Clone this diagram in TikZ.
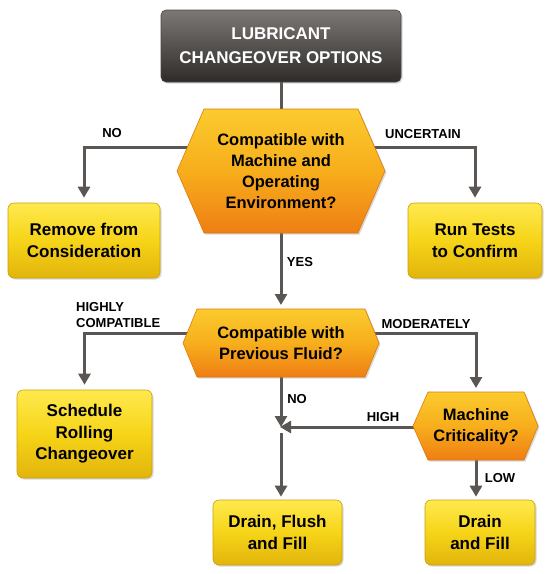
\documentclass[tikz,border=0pt]{standalone}
\usepackage{fontspec}
\setmainfont{Liberation Sans}
\usetikzlibrary{arrows.meta,shadows,calc}
\definecolor{linec}{HTML}{5A5654}
\definecolor{yTop}{HTML}{FEE94E}
\definecolor{yMid}{HTML}{F6D418}
\definecolor{yBot}{HTML}{E2B40C}
\definecolor{yEdge}{HTML}{C9A00A}
\definecolor{hTop}{HTML}{FBCB2E}
\definecolor{hMid}{HTML}{F7AE1C}
\definecolor{hBot}{HTML}{EF7E14}
\definecolor{hEdge}{HTML}{D97A10}
\definecolor{tTop}{HTML}{7C7875}
\definecolor{tBot}{HTML}{2E2B29}
\definecolor{tEdge}{HTML}{4A4745}
\pgfdeclarelayer{bg}
\pgfdeclarelayer{mid}
\pgfsetlayers{bg,mid,main}
\newcommand{\boxfont}{\fontsize{17}{21.5}\selectfont\bfseries}
\newcommand{\hexfont}{\fontsize{16.5}{21}\selectfont\bfseries}
\newcommand{\lblfont}{\fontsize{13}{16}\selectfont\bfseries}
\tikzset{
  conn/.style={draw=linec, line width=3pt},
  arr/.style={conn, -{Triangle[length=11pt,width=12pt]}},
  shad/.style={drop shadow={shadow xshift=1.5pt, shadow yshift=-1.5pt, opacity=0.3}},
  ybox/.style={shad, rounded corners=6pt, top color=yTop, bottom color=yBot, middle color=yMid,
    draw=yEdge, line width=0.6pt, align=center, font=\boxfont, inner sep=0pt},
  tbox/.style={shad, rounded corners=5pt, top color=tTop, bottom color=tBot,
    draw=tEdge, line width=0.6pt, align=center, text=white, font=\fontsize{17}{24}\selectfont\bfseries, inner sep=0pt},
  hexfill/.style={shad, top color=hTop, bottom color=hBot, middle color=hMid, draw=hEdge, line width=0.6pt},
  hextext/.style={align=center, font=\hexfont, inner sep=0pt},
  lbl/.style={font=\lblfont, text=black, inner sep=0pt},
}
\begin{document}
\begin{tikzpicture}[x=1pt,y=-1pt]
\useasboundingbox (0,0) rectangle (550,574);
% boxes
\node[tbox, minimum width=240pt, minimum height=72pt] (title) at (281,46) {LUBRICANT\\CHANGEOVER OPTIONS};
\node[ybox, minimum width=152pt, minimum height=75pt] (rem) at (84,240.5) {Remove from\\Consideration};
\node[ybox, minimum width=134pt, minimum height=75pt] (run) at (475,240.5) {Run Tests\\to Confirm};
\node[ybox, minimum width=135pt, minimum height=88pt] (sch) at (84.5,434) {Schedule\\Rolling\\Changeover};
\node[ybox, minimum width=129pt, minimum height=65pt] (dff) at (277.5,532.5) {Drain, Flush\\and Fill};
\node[ybox, minimum width=110pt, minimum height=65pt] (df) at (480,532.5) {Drain\\and Fill};
% hexagon texts
\node[hextext] (h1) at (281,171) {Compatible with\\Machine and\\Operating\\Environment?};
\node[hextext] (h2) at (281,343) {Compatible with\\Previous Fluid?};
\node[hextext] (h3) at (476,427) {Machine\\Criticality?};
\coordinate (h2t) at (281,309);
\coordinate (h3t) at (476,392);
\coordinate (jn) at (281,427);
% hexagon shapes
\begin{pgfonlayer}{mid}
\path[hexfill] (177,171) -- (204,109) -- (358,109) -- (385,171) -- (358,233) -- (204,233) -- cycle;
\path[hexfill] (183,343) -- (197,309) -- (365,309) -- (379,343) -- (365,377) -- (197,377) -- cycle;
\path[hexfill] (413,426) -- (428,392) -- (524,392) -- (538,426) -- (524,460) -- (428,460) -- cycle;
\end{pgfonlayer}
% connectors
\begin{pgfonlayer}{bg}
\draw[conn] (title) -- (h1);
\draw[arr, shorten >=5pt] ($(h1)+(0,-24)$) -| (rem.north);
\draw[arr, shorten >=5pt] ($(h1)+(0,-24)$) -| (run.north);
\draw[arr, shorten >=4pt] (h1) -- (h2t);
\draw[arr, shorten >=5pt] ($(h2)+(0,-10)$) -| (sch.north);
\draw[arr, shorten >=4pt] ($(h2)+(0,-10)$) -| (h3t);
\draw[arr] (h2) -- (jn);
\draw[arr, shorten >=-1pt] (h3) -- (jn);
\draw[arr, shorten >=3pt] ($(jn)+(0,6)$) -- (jn |- dff.north);
\draw[arr, shorten >=3pt] (h3) -- (h3 |- df.north);
\end{pgfonlayer}
% labels
\node[lbl] (lno1) at (112,133) {NO};
\node[lbl] (lunc) at (423,134) {UNCERTAIN};
\node[lbl] (lyes) at (300,262) {YES};
\node[lbl, align=left, anchor=west] (lhc) at (76,315) {HIGHLY\\COMPATIBLE};
\node[lbl] (lmod) at (426,324) {MODERATELY};
\node[lbl] (lno2) at (297,399) {NO};
\node[lbl] (lhigh) at (383,417) {HIGH};
\node[lbl] (llow) at (500,478) {LOW};
\end{tikzpicture}
\end{document}
